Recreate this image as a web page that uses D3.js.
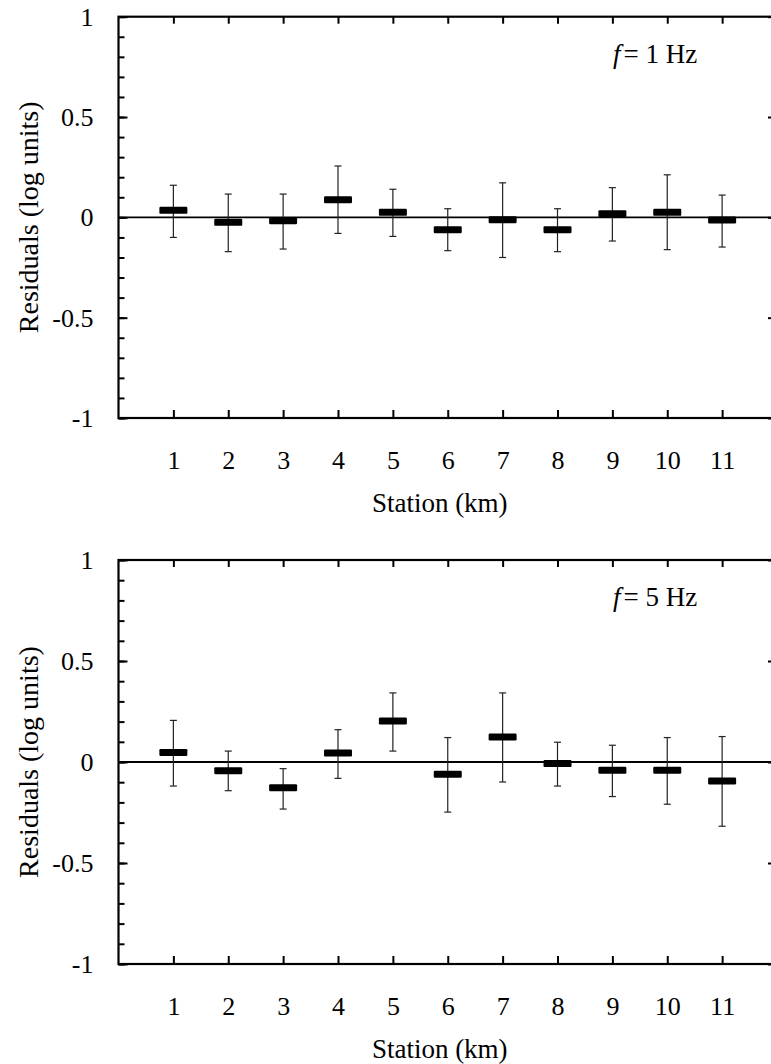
<!DOCTYPE html>
<html>
<head>
<meta charset="utf-8">
<script src="https://cdn.jsdelivr.net/npm/d3@7"></script>
<style>
  html, body { margin: 0; padding: 0; background: #fff; }
  svg { display: block; }
  svg text { font-family: "Liberation Serif", "Times New Roman", Times, "Nimbus Roman", "DejaVu Serif", serif; fill: #000; }
</style>
</head>
<body>
<svg id="chart" width="771" height="1064"></svg>
<script>
// ---- Data ----
const stations = [1, 2, 3, 4, 5, 6, 7, 8, 9, 10, 11];
const xTickLabels = ["1", "2", "3", "4", "5", "6", "7", "8", "9", "10", "11"];
const yMajorTicks = [-1, -0.5, 0, 0.5, 1];
const yTickLabels = ["-1", "-0.5", "0", "0.5", "1"];

// f = 1 Hz
const res1 = [0.035, -0.025, -0.017, 0.088, 0.025, -0.062, -0.012, -0.062, 0.018, 0.025, -0.013];
const hi1  = [0.160, 0.116, 0.116, 0.256, 0.140, 0.043, 0.172, 0.043, 0.148, 0.212, 0.111];
const lo1  = [-0.100, -0.171, -0.158, -0.080, -0.095, -0.166, -0.200, -0.171, -0.118, -0.161, -0.148];

// f = 5 Hz
const res5 = [0.047, -0.043, -0.127, 0.045, 0.203, -0.061, 0.124, -0.008, -0.041, -0.041, -0.094];
const hi5  = [0.206, 0.054, -0.033, 0.160, 0.342, 0.121, 0.342, 0.098, 0.083, 0.121, 0.126];
const lo5  = [-0.119, -0.142, -0.233, -0.081, 0.054, -0.248, -0.099, -0.119, -0.171, -0.209, -0.318];

const panels = [
  { freq: "1", res: res1, hi: hi1, lo: lo1, top: 16.7, bottom: 418 },
  { freq: "5", res: res5, hi: hi5, lo: lo5, top: 560, bottom: 964 }
];

// ---- Drawing ----
const FONT = '"Liberation Serif", "Times New Roman", Times, "Nimbus Roman", "DejaVu Serif", serif';
const svg = d3.select("#chart");
const FS = 26;
const x = d3.scaleLinear().domain([0, 12]).range([118.5, 777]);
const minorTicks = d3.range(-10, 11).map(d => d / 10);

panels.forEach(p => {
  const y = d3.scaleLinear().domain([-1, 1]).range([p.bottom, p.top]);
  const g = svg.append("g");

  const leftMinor = d3.axisLeft(y).tickValues(minorTicks).tickSize(-6).tickSizeOuter(0).tickFormat("");
  const gl = g.append("g").attr("transform", `translate(${x(0)},0)`).call(leftMinor);
  const rightMinor = d3.axisRight(y).tickValues(minorTicks).tickSize(-6).tickSizeOuter(0).tickFormat("");
  const gr = g.append("g").attr("transform", `translate(${x(12)},0)`).call(rightMinor);
  const leftMajor = d3.axisLeft(y).tickValues(yMajorTicks).tickSize(-9).tickSizeOuter(0).tickPadding(25)
    .tickFormat((d, i) => yTickLabels[i]);
  const glm = g.append("g").attr("transform", `translate(${x(0)},0)`).call(leftMajor);
  const rightMajor = d3.axisRight(y).tickValues(yMajorTicks).tickSize(-9).tickSizeOuter(0).tickFormat("");
  const grm = g.append("g").attr("transform", `translate(${x(12)},0)`).call(rightMajor);

  const xb = d3.axisBottom(x).tickValues(stations).tickSize(-8).tickSizeOuter(0).tickPadding(33)
    .tickFormat((d, i) => xTickLabels[i]);
  const gxb = g.append("g").attr("transform", `translate(0,${p.bottom})`).call(xb);
  const xt = d3.axisTop(x).tickValues(stations).tickSize(-7).tickSizeOuter(0).tickFormat("");
  const gxt = g.append("g").attr("transform", `translate(0,${p.top})`).call(xt);

  [gl, gr, glm, grm, gxb, gxt].forEach(a => {
    a.attr("font-family", FONT).attr("font-size", FS);
    a.select(".domain").remove();
    a.selectAll(".tick line").attr("stroke", "#000").attr("stroke-width", 2);
    a.selectAll(".tick text").attr("font-size", FS).attr("font-family", FONT);
  });

  g.append("rect")
    .attr("x", x(0)).attr("y", p.top)
    .attr("width", x(12) - x(0)).attr("height", p.bottom - p.top)
    .attr("fill", "none").attr("stroke", "#000").attr("stroke-width", 2.2);

  g.append("line")
    .attr("x1", x(0)).attr("x2", x(12))
    .attr("y1", y(0)).attr("y2", y(0))
    .attr("stroke", "#000").attr("stroke-width", 1.8);

  const eb = g.append("g").attr("stroke", "#222").attr("stroke-width", 1.2);
  stations.forEach((s, i) => {
    eb.append("line").attr("x1", x(s)).attr("x2", x(s)).attr("y1", y(p.hi[i])).attr("y2", y(p.lo[i]));
    eb.append("line").attr("x1", x(s) - 3.5).attr("x2", x(s) + 3.5).attr("y1", y(p.hi[i])).attr("y2", y(p.hi[i]));
    eb.append("line").attr("x1", x(s) - 3.5).attr("x2", x(s) + 3.5).attr("y1", y(p.lo[i])).attr("y2", y(p.lo[i]));
  });

  g.selectAll("rect.res").data(stations).enter().append("rect")
    .attr("class", "res")
    .attr("x", d => x(d) - 14).attr("width", 28)
    .attr("y", (d, i) => y(p.res[i]) - 3.5).attr("height", 7)
    .attr("rx", 1.2)
    .attr("fill", "#000");

  const ann = g.append("text")
    .attr("x", 613).attr("y", p.top + 46)
    .attr("font-family", FONT)
    .attr("font-size", 27);
  ann.append("tspan").attr("font-style", "italic").text("f");
  ann.append("tspan").attr("dx", 3).text("= " + p.freq + " Hz");

  g.append("text")
    .attr("x", (x(0) + x(12)) / 2 - 8).attr("y", p.bottom + 94)
    .attr("text-anchor", "middle").attr("font-size", 27).attr("font-family", FONT)
    .text("Station (km)");
  g.append("text")
    .attr("transform", `translate(38,${y(0)}) rotate(-90)`)
    .attr("text-anchor", "middle").attr("font-size", 28).attr("font-family", FONT)
    .text("Residuals (log units)");
});
</script>
</body>
</html>
